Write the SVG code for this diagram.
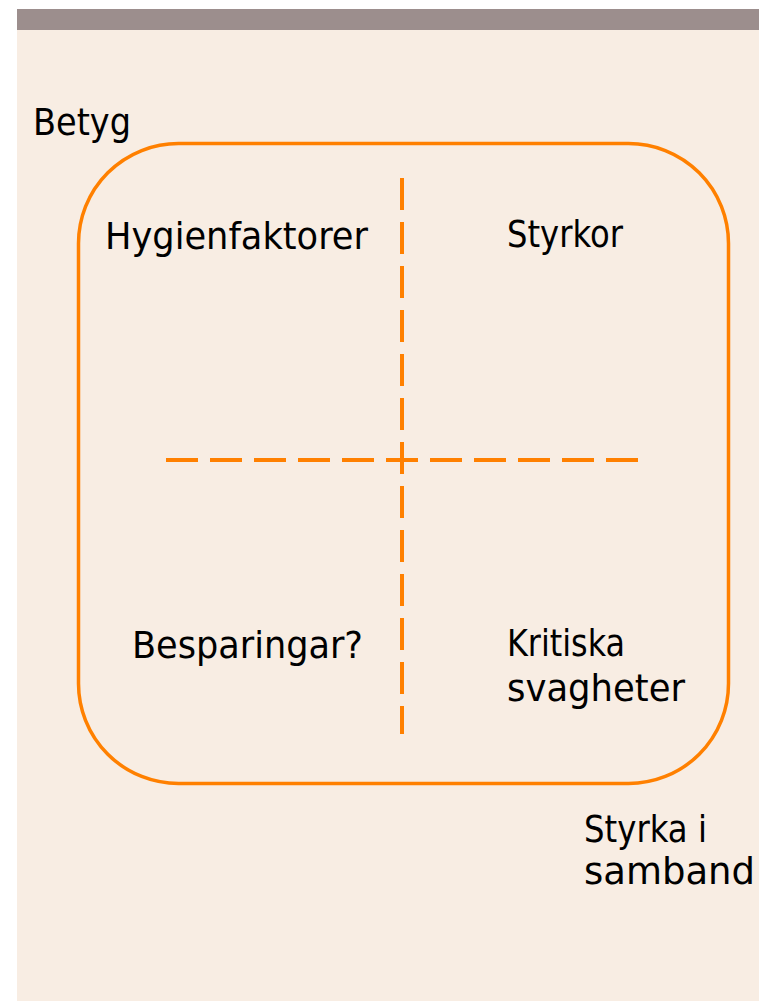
<svg xmlns="http://www.w3.org/2000/svg" width="759" height="1001" viewBox="0 0 759 1001">
<style>
.t{font-family:"DejaVu Sans","Liberation Sans",sans-serif;font-size:38px;fill:#000}
.d{stroke:#FF8000;stroke-width:4;stroke-dasharray:32 12;fill:none}
</style>
<rect x="0" y="0" width="759" height="1001" fill="#FFFFFF"/>
<rect x="17" y="30" width="742" height="971" fill="#F8EDE3"/>
<rect x="17" y="9" width="742" height="21" fill="#9C8E8D"/>
<g id="frame">
<rect x="78.5" y="143.5" width="650" height="640" rx="100" ry="100" fill="none" stroke="#FF8000" stroke-width="3.5"/>
</g>
<g id="connectors">
<line class="d" x1="402" y1="178" x2="402" y2="734"/>
<line class="d" x1="166" y1="460" x2="638" y2="460"/>
</g>
<g id="betyg"><text class="t" x="33" y="135" textLength="98" lengthAdjust="spacingAndGlyphs">Betyg</text></g>
<g id="hygien"><text class="t" x="105" y="249" textLength="263" lengthAdjust="spacingAndGlyphs">Hygienfaktorer</text></g>
<g id="styrkor"><text class="t" x="507" y="247" textLength="116" lengthAdjust="spacingAndGlyphs">Styrkor</text></g>
<g id="besparingar"><text class="t" x="132" y="658" textLength="231" lengthAdjust="spacingAndGlyphs">Besparingar?</text></g>
<g id="kritiska">
<text class="t" x="507" y="656" textLength="118" lengthAdjust="spacingAndGlyphs">Kritiska</text>
<text class="t" x="507" y="701" textLength="178" lengthAdjust="spacingAndGlyphs">svagheter</text>
</g>
<g id="samband">
<text class="t" x="584" y="842" textLength="123" lengthAdjust="spacingAndGlyphs">Styrka i</text>
<text class="t" x="584" y="884" textLength="171" lengthAdjust="spacingAndGlyphs">samband</text>
</g>
</svg>
